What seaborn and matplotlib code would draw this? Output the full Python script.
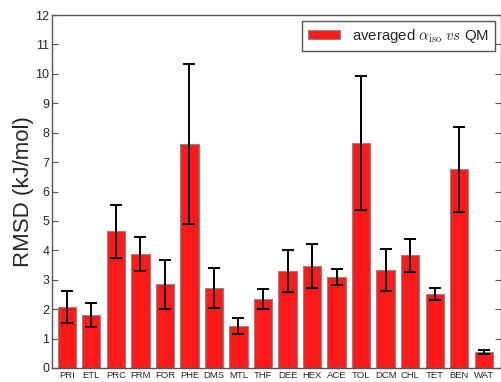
import matplotlib
matplotlib.use("Agg")
import matplotlib.pyplot as plt
import numpy as np
import pandas as pd
import seaborn as sns

solvents = ["PRI", "ETL", "PRC", "FRM", "FOR", "PHE", "DMS", "MTL", "THF",
            "DEE", "HEX", "ACE", "TOL", "DCM", "CHL", "TET", "BEN", "WAT"]
rmsd = [2.08, 1.80, 4.65, 3.87, 2.84, 7.60, 2.73, 1.43, 2.36,
        3.31, 3.47, 3.10, 7.65, 3.33, 3.83, 2.52, 6.75, 0.55]
rmsd_err = [0.54, 0.41, 0.90, 0.57, 0.82, 2.72, 0.68, 0.27, 0.34,
            0.71, 0.75, 0.27, 2.27, 0.71, 0.57, 0.21, 1.45, 0.07]
yticks = list(range(0, 13))

sns.set_style("white")
plt.rcParams['font.family'] = ['Liberation Sans', 'DejaVu Sans']
plt.rcParams['mathtext.fontset'] = 'cm'

df = pd.DataFrame({"solvent": solvents, "rmsd": rmsd})

fig = plt.figure(figsize=(5.02, 3.82), dpi=100)
ax = fig.add_axes([52 / 502, 14 / 382, 449 / 502, 353 / 382])

sns.barplot(data=df, x="solvent", y="rmsd", color="#ff1a1a", saturation=1,
            width=0.75, edgecolor="#888888", linewidth=0.8, errorbar=None,
            label=r"averaged $\alpha_{\rm iso}$ $vs$ QM", ax=ax)
ax.errorbar(np.arange(len(solvents)), rmsd, yerr=rmsd_err, fmt="none",
            ecolor="black", elinewidth=1.4, capsize=4.5, capthick=1.4)

ax.set_xlim(-0.6, len(solvents) - 0.3)
ax.set_ylim(0, 12)
ax.set_yticks(yticks)
ax.set_xlabel("")
ax.set_ylabel("RMSD (kJ/mol)", fontsize=16, labelpad=1)
ax.tick_params(axis="y", direction="in", length=4, right=True, left=True,
               labelsize=9, color="#555555", pad=2)
ax.tick_params(axis="x", length=0, labelsize=6.8, pad=2)
for s in ax.spines.values():
    s.set_color("#555555")
    s.set_linewidth(1.0)

leg = ax.legend(loc="upper right", fontsize=10.8, fancybox=False,
                edgecolor="#555555", framealpha=1, handlelength=2.1,
                handleheight=0.6, borderaxespad=0.4)
leg.get_frame().set_linewidth(1.0)

fig.savefig("out.png", dpi=100)
